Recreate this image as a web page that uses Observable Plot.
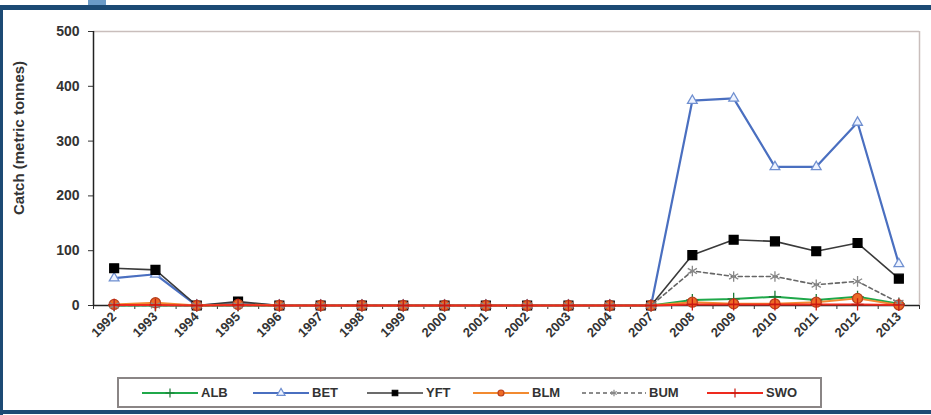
<!DOCTYPE html>
<html>
<head>
<meta charset="utf-8">
<script src="https://cdn.jsdelivr.net/npm/d3@7"></script>
<script src="https://cdn.jsdelivr.net/npm/@observablehq/plot@0.6"></script>
<style>
  html, body { margin: 0; padding: 0; background: #fff; }
  #page { position: relative; width: 931px; height: 415px; overflow: hidden; background: #fff;
          font-family: "Liberation Sans", Arial, sans-serif; }
  .bar-top { position: absolute; left: 0; top: 5px; width: 931px; height: 5px; background: #1c4a74; }
  .tab { position: absolute; left: 88px; top: 0; width: 18px; height: 5px; background: #6b9bc8; }
  .bar-left { position: absolute; left: 0; top: 5px; width: 3px; height: 410px; background: #1c4a74; }
  .bar-bottom { position: absolute; left: 0; top: 410px; width: 931px; height: 4px; background: #1c4a74; }
  #chart { position: absolute; left: 0; top: 0; }
  #ytitle { position: absolute; left: 18px; top: 138px; transform: translate(-50%, -50%) rotate(-90deg);
            font-size: 15px; font-weight: bold; color: #333; white-space: nowrap; }
  #legend { position: absolute; left: 117px; top: 377px; width: 701px; height: 27px;
            border: 2px solid #8a8585; box-sizing: content-box; }
  .item { position: absolute; top: 0; height: 27px; display: flex; align-items: center;
          font-size: 13px; font-weight: bold; color: #333; }
  .item svg { margin-right: 3px; }
</style>
</head>
<body>
<div id="page">
  <div class="bar-top"></div>
  <div class="tab"></div>
  <div class="bar-left"></div>
  <div class="bar-bottom"></div>
  <div id="chart"></div>
  <div id="ytitle">Catch (metric tonnes)</div>
  <div id="legend"></div>
</div>
<script>
// Category labels (years reported) and catches by species, metric tonnes
const years = ["1992", "1993", "1994", "1995", "1996", "1997", "1998", "1999", "2000", "2001",
               "2002", "2003", "2004", "2007", "2008", "2009", "2010", "2011", "2012", "2013"];
const ALB = [0, 0, 0, 0, 0, 0, 0, 0, 0, 0, 0, 0, 0, 0, 10, 12, 16, 10, 16, 3];
const BET = [50, 57, 0, 4, 0, 0, 0, 0, 0, 0, 0, 0, 0, 0, 374, 378, 253, 253, 334, 76];
const YFT = [68, 65, 0, 7, 0, 0, 0, 0, 0, 0, 0, 0, 0, 0, 92, 120, 117, 99, 114, 49];
const BLM = [2, 5, 0, 2, 0, 0, 0, 0, 0, 0, 0, 0, 0, 0, 6, 3, 3, 6, 13, 1];
const BUM = [0, 0, 0, 0, 0, 0, 0, 0, 0, 0, 0, 0, 0, 0, 63, 53, 53, 38, 44, 5];
const SWO = [1, 1, 0, 1, 0, 0, 0, 0, 0, 0, 0, 0, 0, 0, 2, 2, 2, 2, 2, 1];
const yTicks = [0, 100, 200, 300, 400, 500];

// Series styling, in drawing order (last drawn on top)
const series = [
  {name: "ALB", values: ALB, stroke: "#1fa84a", width: 2, dash: null,
   symbol: "plus", fill: "none", mstroke: "#1b7a36", r: 4},
  {name: "BET", values: BET, stroke: "#4a6fc0", width: 2.2, dash: null,
   symbol: "triangle", fill: "#eef3ff", mstroke: "#6f8fd0", r: 3.6},
  {name: "YFT", values: YFT, stroke: "#3a3a3a", width: 1.6, dash: null,
   symbol: "square", fill: "#000", mstroke: "#000", r: 5},
  {name: "BLM", values: BLM, stroke: "#f28a30", width: 2, dash: null,
   symbol: "circle", fill: "#ee6a25", mstroke: "#b8401e", r: 5},
  {name: "BUM", values: BUM, stroke: "#666", width: 1.6, dash: "4,3",
   symbol: "asterisk", fill: "none", mstroke: "#888", r: 5},
  {name: "SWO", values: SWO, stroke: "#ee2a1e", width: 2, dash: null,
   symbol: "plus", fill: "none", mstroke: "#c81a10", r: 4}
];

const idx = years.map((_, i) => i);
const bounds = d3.range(-0.5, years.length, 1);

const marks = [
  // plot area frame (light top & right edges)
  Plot.ruleY([500], {stroke: "#c9bebc", strokeWidth: 1.5}),
  Plot.ruleX([years.length - 0.5], {stroke: "#c9bebc", strokeWidth: 1.5}),
  // category tick marks between years, labels centred under each year
  Plot.axisX({ticks: bounds, tickFormat: () => "", tickSize: 4, stroke: "#333", label: null}),
  Plot.axisX({ticks: idx, tickFormat: i => years[i], tickSize: 0, tickRotate: -45,
              tickPadding: 9, fontSize: 13, fontWeight: "bold", fill: "#333", label: null}),
  Plot.axisY({ticks: yTicks, tickSize: 5, tickPadding: 9, fontSize: 14, fontWeight: "bold",
              fill: "#333", stroke: "#333", label: null}),
  Plot.ruleX([-0.5], {stroke: "#222", strokeWidth: 1.5}),
  Plot.ruleY([0], {stroke: "#222", strokeWidth: 1.5})
];

for (const s of series) {
  const rows = s.values.map((v, i) => ({i, v}));
  marks.push(Plot.line(rows, {x: "i", y: "v", stroke: s.stroke, strokeWidth: s.width,
                              strokeDasharray: s.dash}));
  marks.push(Plot.dot(rows, {x: "i", y: "v", symbol: () => s.symbol, r: s.r,
                             fill: s.fill, stroke: s.mstroke, strokeWidth: 1.3}));
}

const chart = Plot.plot({
  width: 931,
  height: 375,
  marginTop: 31,
  marginBottom: 70,
  marginLeft: 93,
  marginRight: 12,
  style: {background: "transparent", fontFamily: "'Liberation Sans', Arial, sans-serif"},
  x: {type: "linear", domain: [-0.5, years.length - 0.5], axis: null, label: null},
  y: {domain: [0, 500], axis: null, label: null},
  symbol: {type: "identity"},
  marks
});
document.getElementById("chart").appendChild(chart);

// Legend: one swatch (line + marker) per series
const legend = document.getElementById("legend");
const itemLeft = [23, 134, 248, 354, 463, 588];
const shapes = {plus: d3.symbolPlus, triangle: d3.symbolTriangle, square: d3.symbolSquare,
                circle: d3.symbolCircle, asterisk: d3.symbolAsterisk};
series.forEach((s, k) => {
  const item = document.createElement("div");
  item.className = "item";
  item.style.left = itemLeft[k] + "px";
  const w = s.name === "BUM" ? 64 : 56;
  const svg = d3.create("svg").attr("width", w).attr("height", 12);
  svg.append("line").attr("x1", 0).attr("x2", w).attr("y1", 6).attr("y2", 6)
    .attr("stroke", s.stroke).attr("stroke-width", Math.min(2, s.width))
    .attr("stroke-dasharray", s.dash);
  svg.append("path").attr("transform", `translate(${w / 2},6)`)
    .attr("d", d3.symbol(shapes[s.symbol], s.symbol === "square" ? 30 : 28)())
    .attr("fill", s.fill).attr("stroke", s.mstroke).attr("stroke-width", 1.2);
  item.appendChild(svg.node());
  const t = document.createElement("span");
  t.textContent = s.name;
  item.appendChild(t);
  legend.appendChild(item);
});
</script>
</body>
</html>
